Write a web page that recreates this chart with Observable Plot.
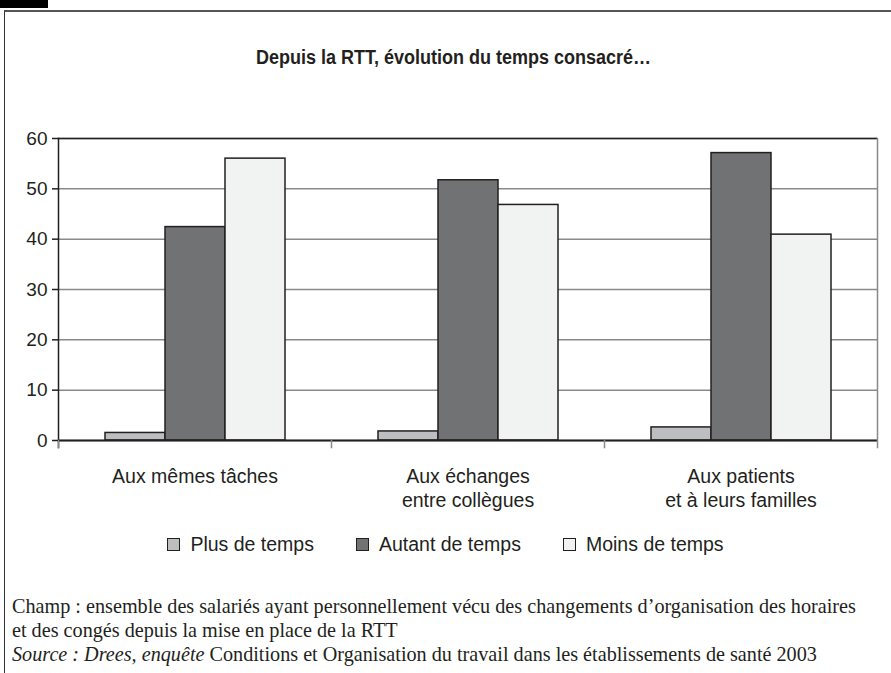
<!DOCTYPE html>
<html>
<head>
<meta charset="utf-8">
<script src="https://cdn.jsdelivr.net/npm/d3@7"></script>
<script src="https://cdn.jsdelivr.net/npm/@observablehq/plot@0.6"></script>
<style>
  html, body { margin: 0; padding: 0; background: #fff; }
  body { width: 891px; height: 673px; position: relative; overflow: hidden; font-family: "Liberation Sans", Arial, sans-serif; color: #231f20; }
  #blackbox { position: absolute; left: 0; top: 0; width: 48px; height: 8px; background: #000; }
  #border { position: absolute; left: 4px; top: 10px; width: 900px; height: 700px; border-left: 1.5px solid #333; border-top: 2px solid #555; }
  #title { position: absolute; left: 8px; width: 891px; top: 45px; text-align: center; font-family: "Liberation Sans", Arial, sans-serif; font-weight: bold; font-size: 20px; line-height: 24px; transform: scaleX(0.9); transform-origin: 445px 0; }
  #chart { position: absolute; left: 0; top: 100px; }
  #legend { position: absolute; left: 0; width: 891px; top: 532px; display: flex; justify-content: center; align-items: center; gap: 42px; font-size: 19.5px; line-height: 24px; }
  #legend .item { display: flex; align-items: center; }
  #legend .sw { width: 11px; height: 11px; border: 1.5px solid #231f20; margin-right: 10px; }
  #caption { position: absolute; left: 12px; top: 594px; font-family: "Liberation Serif", "Times New Roman", serif; font-size: 20.2px; line-height: 24px; white-space: nowrap; }
</style>
</head>
<body>
<div id="blackbox"></div>
<div id="border"></div>
<div id="title">Depuis la RTT, évolution du temps consacré…</div>
<div id="chart"></div>
<div id="legend"></div>
<div id="caption">Champ : ensemble des salariés ayant personnellement vécu des changements d’organisation des horaires<br>et des congés depuis la mise en place de la RTT<br><i>Source : Drees, enquête</i> Conditions et Organisation du travail dans les établissements de santé 2003</div>
<script>
const categories = ["Aux mêmes tâches", "Aux échanges\nentre collègues", "Aux patients\net à leurs familles"];
const series = ["Plus de temps", "Autant de temps", "Moins de temps"];
const plusValues = [1.5, 1.8, 2.6];
const autantValues = [42.4, 51.7, 57.1];
const moinsValues = [56.0, 46.8, 40.9];
const yTicks = [0, 10, 20, 30, 40, 50, 60];
const colors = ["#bcbec0", "#717274", "#f1f2f2"];

const valuesBySeries = [plusValues, autantValues, moinsValues];
const data = [];
categories.forEach((c, i) => {
  series.forEach((s, j) => {
    data.push({category: c, series: s, value: valuesBySeries[j][i]});
  });
});

const ink = "#231f20";
const chart = Plot.plot({
  width: 891,
  height: 425,
  marginLeft: 58,
  marginRight: 14,
  marginTop: 38,
  marginBottom: 85,
  style: {fontFamily: "'Liberation Sans', Arial, sans-serif", color: ink, background: "transparent"},
  fx: {domain: categories, padding: 0, label: null},
  x: {domain: series, paddingInner: 0, paddingOuter: 0.74, axis: null},
  y: {domain: [0, 60], label: null, axis: null},
  color: {domain: series, range: colors},
  marks: [
    Plot.gridY(yTicks, {stroke: "#8a8a8a", strokeOpacity: 1, strokeWidth: 1.5}),
    Plot.ruleY([60], {stroke: ink, strokeWidth: 1.5}),
    Plot.barY(data, {fx: "category", x: "series", y: "value", fill: "series", stroke: ink, strokeWidth: 1.5}),
    Plot.ruleY([0], {stroke: ink, strokeWidth: 2}),
    Plot.frame({anchor: "left", facetAnchor: "left", stroke: ink, strokeWidth: 1.5, insetBottom: -7}),
    Plot.frame({anchor: "left", stroke: "#8a8a8a", strokeWidth: 1.5, insetTop: 302, insetBottom: -7}),
    Plot.frame({anchor: "right", facetAnchor: "right", stroke: "#8a8a8a", strokeWidth: 1.5, insetBottom: -7}),
    Plot.axisY(yTicks, {anchor: "left", tickSize: 6, tickPadding: 5, fontSize: 19, label: null, stroke: ink, strokeWidth: 1.5, fill: ink}),
    Plot.axisFx({anchor: "bottom", tickSize: 0, tickPadding: 25, fontSize: 19.5, lineHeight: 1.23, label: null, fill: ink})
  ]
});
document.getElementById("chart").appendChild(chart);

const legend = document.getElementById("legend");
series.forEach((s, j) => {
  const item = document.createElement("div");
  item.className = "item";
  const sw = document.createElement("span");
  sw.className = "sw";
  sw.style.background = colors[j];
  const label = document.createElement("span");
  label.textContent = s;
  item.appendChild(sw);
  item.appendChild(label);
  legend.appendChild(item);
});
</script>
</body>
</html>
